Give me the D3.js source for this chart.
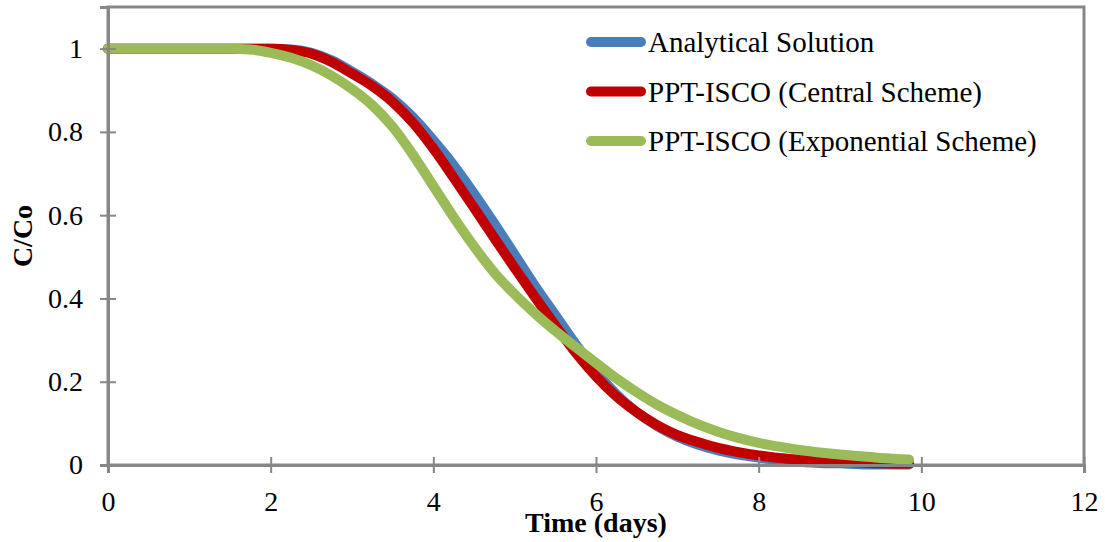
<!DOCTYPE html>
<html>
<head>
<meta charset="utf-8">
<script src="https://cdn.jsdelivr.net/npm/d3@7"></script>
<style>
html,body{margin:0;padding:0;background:#fff;}
svg{display:block;}
text{font-family:"Liberation Serif","Times New Roman",serif;fill:#000;}
</style>
</head>
<body>
<svg id="chart" width="1105" height="542"></svg>
<script>
// ---- data ----
const timeDays = [0,0.25,0.5,0.75,1,1.25,1.5,1.75,2,2.25,2.5,2.75,3,3.25,3.5,3.75,4,4.25,4.5,4.75,5,5.25,5.5,5.75,6,6.25,6.5,6.75,7,7.25,7.5,7.75,8,8.25,8.5,8.75,9,9.25,9.5,9.75,9.85];
const analytical = [1,1,1,1,1,1,1,1,1,0.998,0.99,0.972,0.945,0.915,0.88,0.835,0.78,0.72,0.652,0.58,0.505,0.43,0.36,0.29,0.225,0.17,0.127,0.094,0.068,0.049,0.035,0.025,0.018,0.012,0.008,0.005,0.004,0.002,0.001,0.001,0.001];
const central = [1,1,1,1,1,1,1,1,1,0.997,0.988,0.968,0.94,0.91,0.872,0.822,0.76,0.69,0.618,0.545,0.473,0.403,0.335,0.27,0.213,0.165,0.127,0.096,0.072,0.055,0.041,0.031,0.023,0.017,0.013,0.01,0.008,0.006,0.004,0.003,0.003];
const exponential = [1,1,1,1,1,1,1,0.998,0.99,0.978,0.96,0.935,0.903,0.864,0.812,0.745,0.67,0.595,0.525,0.462,0.41,0.364,0.322,0.283,0.245,0.208,0.175,0.145,0.12,0.098,0.08,0.065,0.053,0.044,0.036,0.03,0.025,0.021,0.017,0.014,0.013];
const seriesNames = ["Analytical Solution","PPT-ISCO (Central Scheme)","PPT-ISCO (Exponential Scheme)"];
const seriesColors = ["#4a7ebb","#c00000","#9bbb59"];
const xTicks = [0,2,4,6,8,10,12];
const yTicks = [0,0.2,0.4,0.6,0.8,1];
const yTickLabels = ["0","0.2","0.4","0.6","0.8","1"];
const xTitle = "Time (days)";
const yTitle = "C/Co";

// ---- layout ----
const W = 1105, H = 542;
const m = {left:108, right:21, top:7, bottom:77};
const svg = d3.select("#chart");
const x = d3.scaleLinear().domain([0,12]).range([m.left, W - m.right]);
const y = d3.scaleLinear().domain([0,1.1]).range([H - m.bottom, m.top]);
const grey = "#878787";

// plot border
svg.append("rect")
  .attr("x", x(0)).attr("y", y(1.1))
  .attr("width", x(12) - x(0)).attr("height", y(0) - y(1.1))
  .attr("fill","none").attr("stroke",grey).attr("stroke-width",3);

// series
const allSeries = [analytical, central, exponential];
const line = d3.line()
  .x((d,i) => x(timeDays[i]))
  .y(d => y(d))
  .curve(d3.curveMonotoneX);
allSeries.forEach((vals, k) => {
  svg.append("path")
    .datum(vals)
    .attr("d", line)
    .attr("fill","none")
    .attr("stroke", seriesColors[k])
    .attr("stroke-width", 10)
    .attr("stroke-linecap","round")
    .attr("stroke-linejoin","round");
});

// x axis
const xAxis = svg.append("g")
  .attr("transform", `translate(0,${y(0)})`)
  .call(d3.axisBottom(x).tickValues(xTicks).tickFormat(d3.format("d")).tickSize(8).tickPadding(18));
xAxis.select(".domain").attr("stroke",grey).attr("stroke-width",3);
xAxis.selectAll(".tick line").attr("stroke",grey).attr("stroke-width",2).attr("y1",-8);
xAxis.selectAll(".tick text").attr("font-size",28).attr("font-family","Liberation Serif");

// y axis
const yAxis = svg.append("g")
  .attr("transform", `translate(${x(0)},0)`)
  .call(d3.axisLeft(y).tickValues(yTicks).tickFormat((d,i) => yTickLabels[i]).tickSize(8).tickPadding(17));
yAxis.select(".domain").attr("stroke",grey).attr("stroke-width",3);
yAxis.selectAll(".tick line").attr("stroke",grey).attr("stroke-width",2).attr("x1",8);
yAxis.selectAll(".tick text").attr("font-size",28).attr("font-family","Liberation Serif");

// titles
svg.append("text")
  .attr("x", (x(0)+x(12))/2).attr("y", 532)
  .attr("text-anchor","middle").attr("font-weight","bold").attr("font-size",28)
  .text(xTitle);
svg.append("text")
  .attr("transform", `translate(32,${(y(0)+y(1.1))/2}) rotate(-90)`)
  .attr("text-anchor","middle").attr("font-weight","bold").attr("font-size",28)
  .text(yTitle);

// legend
const legend = svg.append("g");
seriesNames.forEach((name, k) => {
  const cy = 42 + k*49.5;
  legend.append("line")
    .attr("x1",591).attr("x2",641).attr("y1",cy).attr("y2",cy)
    .attr("stroke",seriesColors[k]).attr("stroke-width",10).attr("stroke-linecap","round");
  legend.append("text")
    .attr("x",648).attr("y",cy+10)
    .attr("font-size",29)
    .text(name);
});
</script>
</body>
</html>
